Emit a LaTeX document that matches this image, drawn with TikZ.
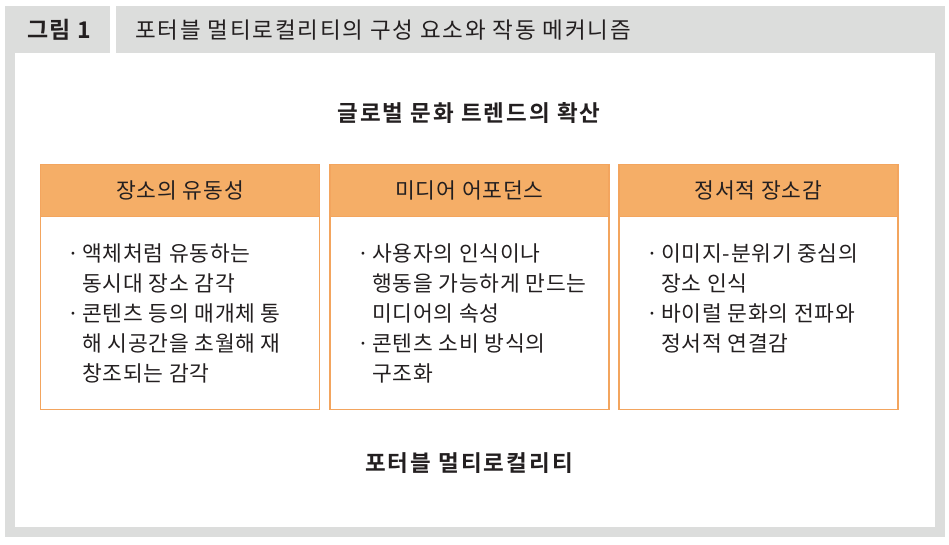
\documentclass[tikz,border=0pt]{standalone}
\usepackage{fontspec}
\setmainfont{Noto Sans CJK KR}[BoldFont={Noto Sans CJK KR Bold}]
\usepackage{tikz}
\usetikzlibrary{positioning}
\usepackage{xcolor}
\definecolor{framegray}{HTML}{DCDDDC}
\definecolor{headorange}{HTML}{F5AE67}
\definecolor{lineorange}{HTML}{F3A55E}
\definecolor{inkblack}{HTML}{231F20}
\newcommand{\bul}{\makebox[13pt][l]{\hspace*{-2pt}·}}
\newcommand{\hang}{\hspace*{13pt}}

\begin{document}
\begin{tikzpicture}[x=1pt,y=-1pt,
    framebox/.style={draw=lineorange,line width=1.2pt,fill=white,minimum width=279pt,minimum height=245pt,anchor=north,inner sep=0pt},
    headbox/.style={draw=lineorange,line width=1.2pt,fill=headorange,minimum width=279pt,minimum height=52pt,inner sep=0pt,font=\fontsize{21.5}{24}\selectfont\addfontfeatures{LetterSpace=4},text=inkblack},
    itemtext/.style={align=left,anchor=north west,inner sep=0pt,font=\fontsize{21.5}{30}\selectfont\addfontfeatures{LetterSpace=3.5},text=inkblack},
    bigtitle/.style={inner sep=0pt,font=\fontsize{22.5}{26}\selectfont\bfseries\addfontfeatures{LetterSpace=9},text=inkblack}]
        \useasboundingbox (0,0) rectangle (949,545);
        % Draw gray frame with title bar
        \fill[framegray] (5,6) rectangle (945,537);
        \fill[white] (15,53) rectangle (935,527);
        \fill[white] (110,6) rectangle (116,53);
        % Draw figure label and title
        \node[inner sep=0pt,font=\fontsize{23}{26}\selectfont\bfseries\addfontfeatures{LetterSpace=5},text=inkblack] (figno) at (59,30) {그림 1};
        \node[inner sep=0pt,anchor=west,font=\fontsize{22.5}{26}\selectfont\addfontfeatures{LetterSpace=8},text=inkblack] (figtitle) at (135,30) {포터블 멀티로컬리티의 구성 요소와 작동 메커니즘};
        % Draw top and bottom headings
        \node[bigtitle] (trend) at (469,113) {글로벌 문화 트렌드의 확산};
        \node[bigtitle] (portable) at (469,463) {포터블 멀티로컬리티};
        % Draw three boxes
        \node[framebox] (box1) at (180,164) {};
        \node[headbox,below=0pt of box1.north] (head1) {장소의 유동성};
        \node[framebox] (box2) at (469.5,164) {};
        \node[headbox,below=0pt of box2.north] (head2) {미디어 어포던스};
        \node[framebox] (box3) at (758.5,164) {};
        \node[headbox,below=0pt of box3.north] (head3) {정서적 장소감};
        % Draw box texts
        \node[itemtext] (text1) at (69,244) {
            \bul 액체처럼 유동하는\\
            \hang 동시대 장소 감각\\
            \bul 콘텐츠 등의 매개체 통\\
            \hang 해 시공간을 초월해 재\\
            \hang 창조되는 감각};
        \node[itemtext] (text2) at (359,244) {
            \bul 사용자의 인식이나\\
            \hang 행동을 가능하게 만드는\\
            \hang 미디어의 속성\\
            \bul 콘텐츠 소비 방식의\\
            \hang 구조화};
        \node[itemtext] (text3) at (648,244) {
            \bul 이미지-분위기 중심의\\
            \hang 장소 인식\\
            \bul 바이럴 문화의 전파와\\
            \hang 정서적 연결감};
    \end{tikzpicture}
\end{document}
